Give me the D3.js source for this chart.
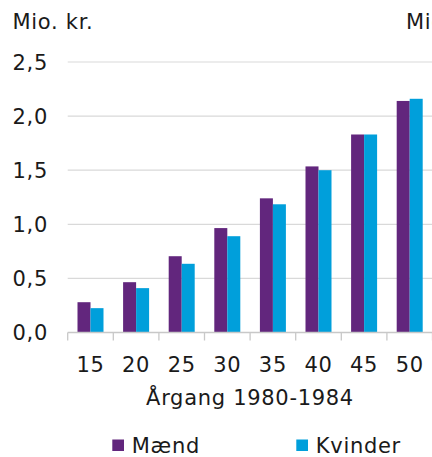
<!DOCTYPE html>
<html>
<head>
<meta charset="utf-8">
<script src="https://cdn.jsdelivr.net/npm/d3@7"></script>
<style>
  html, body { margin: 0; padding: 0; background: #fff; }
  svg { display: block; font-family: "DejaVu Sans", Verdana, sans-serif; }
  svg text { letter-spacing: 0.7px; }
</style>
</head>
<body>
<div id="chart"></div>
<script>
// data
var categories = ["15", "20", "25", "30", "35", "40", "45", "50"];
var seriesNames = ["Mænd", "Kvinder"];
var maend = [0.28, 0.465, 0.705, 0.965, 1.24, 1.535, 1.83, 2.14];
var kvinder = [0.225, 0.41, 0.635, 0.89, 1.185, 1.5, 1.83, 2.16];
var yTicks = [0, 0.5, 1, 1.5, 2, 2.5];
var colors = ["#62267d", "#009fdb"];

var W = 432, H = 457;
var fontSize = 21;

var svg = d3.select('#chart').append('svg')
    .attr('width', W)
    .attr('height', H);

// x scale, band per age, plot runs off the right edge
var x = d3.scaleBand()
    .domain(categories)
    .range([67.7, 432.5])
    .padding(0);

var x1 = d3.scaleBand()
    .domain(seriesNames)
    .range([x.bandwidth() / 2 - 13, x.bandwidth() / 2 + 13])
    .padding(0);

var y = d3.scaleLinear()
    .domain([0, 2.5])
    .range([332.5, 62]);

var color = d3.scaleOrdinal().domain(seriesNames).range(colors);

// grid lines
svg.append('g')
    .selectAll('line')
    .data(yTicks.filter(function (d) { return d > 0; }))
    .enter().append('line')
    .attr('x1', x.range()[0])
    .attr('x2', W)
    .attr('y1', function (d) { return y(d); })
    .attr('y2', function (d) { return y(d); })
    .attr('stroke', '#d9d9d9')
    .attr('stroke-width', 1.2);

// y tick labels
var fmt = function (d) { return d3.format('.1f')(d).replace('.', ','); };
svg.append('g')
    .selectAll('text')
    .data(yTicks)
    .enter().append('text')
    .attr('x', 48)
    .attr('y', function (d) { return y(d); })
    .attr('dy', '0.36em')
    .attr('text-anchor', 'end')
    .attr('font-size', fontSize)
    .attr('fill', '#1a1a1a')
    .text(fmt);

// bars
var rows = categories.map(function (c, i) {
    return { cat: c, values: [maend[i], kvinder[i]] };
});

svg.append('g')
    .selectAll('g')
    .data(rows)
    .enter().append('g')
    .attr('transform', function (d) { return 'translate(' + x(d.cat) + ',0)'; })
    .selectAll('rect')
    .data(function (d) {
        return seriesNames.map(function (s, j) { return { key: s, value: d.values[j] }; });
    })
    .enter().append('rect')
    .attr('x', function (d) { return x1(d.key); })
    .attr('width', x1.bandwidth())
    .attr('y', function (d) { return y(d.value); })
    .attr('height', function (d) { return y(0) - y(d.value); })
    .attr('fill', function (d) { return color(d.key); });

// x axis line + ticks at band edges
var edges = categories.map(function (c) { return x(c); }).concat([x.range()[1]]);
var axis = svg.append('g');
axis.append('line')
    .attr('x1', x.range()[0])
    .attr('x2', W)
    .attr('y1', y(0))
    .attr('y2', y(0))
    .attr('stroke', '#c8c8c8')
    .attr('stroke-width', 1.3);
axis.selectAll('line.tick')
    .data(edges)
    .enter().append('line')
    .attr('class', 'tick')
    .attr('x1', function (d) { return d; })
    .attr('x2', function (d) { return d; })
    .attr('y1', y(0))
    .attr('y2', y(0) + 8)
    .attr('stroke', '#c8c8c8')
    .attr('stroke-width', 1.3);
axis.selectAll('text')
    .data(categories)
    .enter().append('text')
    .attr('x', function (d) { return x(d) + x.bandwidth() / 2; })
    .attr('y', 371.5)
    .attr('text-anchor', 'middle')
    .attr('font-size', fontSize)
    .attr('fill', '#1a1a1a')
    .text(function (d) { return d; });

// axis title
svg.append('text')
    .attr('x', 250)
    .attr('y', 405)
    .attr('text-anchor', 'middle')
    .attr('font-size', fontSize)
    .attr('fill', '#1a1a1a')
    .text('Årgang 1980-1984');

// unit labels (right one is cut off by the frame)
svg.append('text')
    .attr('x', 12.5)
    .attr('y', 29)
    .attr('font-size', fontSize)
    .attr('fill', '#1a1a1a')
    .text('Mio. kr.');
svg.append('text')
    .attr('x', 406)
    .attr('y', 29)
    .attr('font-size', fontSize)
    .attr('fill', '#1a1a1a')
    .text('Mio. kr.');

// legend
var legendX = [112.3, 296.3];
var legend = svg.append('g')
    .selectAll('g')
    .data(seriesNames)
    .enter().append('g')
    .attr('transform', function (d, i) { return 'translate(' + legendX[i] + ',439.5)'; });

legend.append('rect')
    .attr('width', 11.7)
    .attr('height', 11.5)
    .attr('fill', color);

legend.append('text')
    .attr('x', 19.5)
    .attr('y', 13.5)
    .attr('font-size', fontSize)
    .attr('fill', '#1a1a1a')
    .text(function (d) { return d; });
</script>
</body>
</html>
